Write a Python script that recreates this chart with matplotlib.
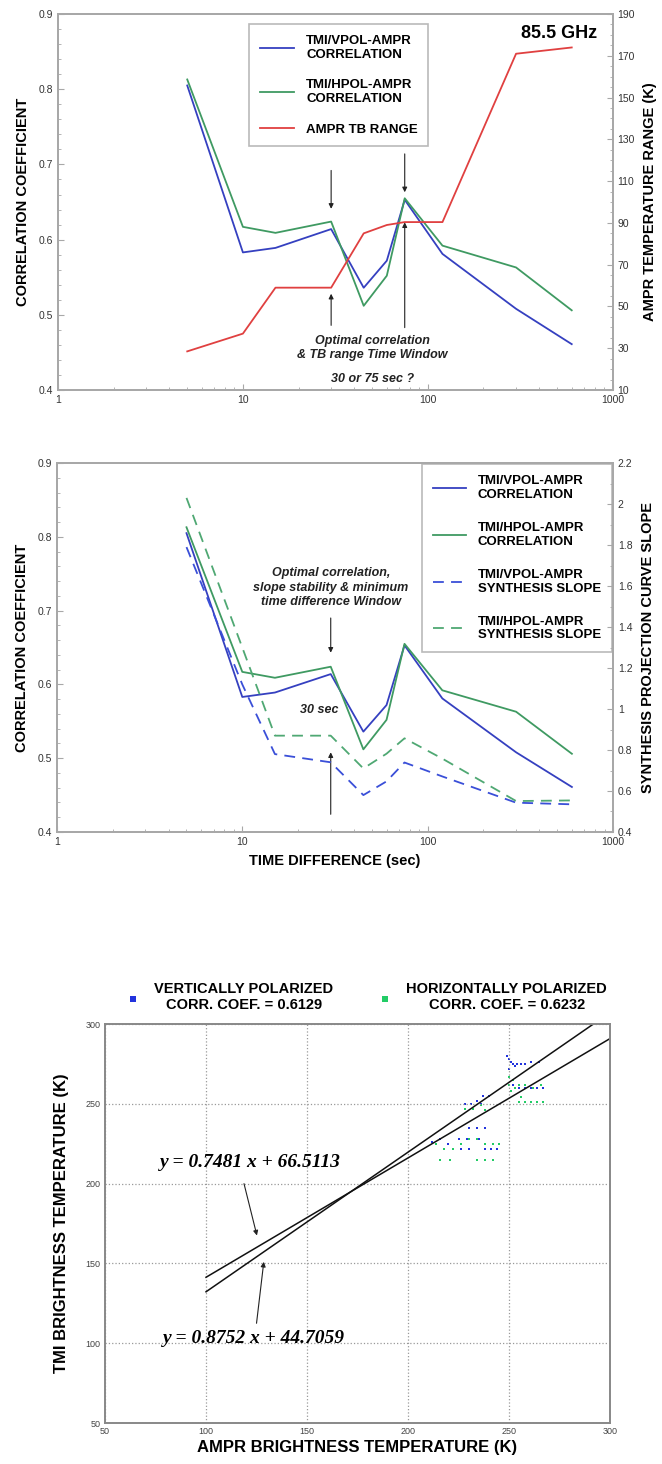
import numpy as np
import matplotlib
matplotlib.use("Agg")
import matplotlib.pyplot as plt
from matplotlib.ticker import MultipleLocator, FixedLocator, FuncFormatter, LogLocator, NullFormatter

plt.rcParams['font.family'] = ['Liberation Sans', 'DejaVu Sans']

# time difference (sec)
time_diff = [5, 10, 15, 30, 45, 60, 75, 120, 300, 600]
# TMI vs AMPR correlation coefficients
corr_vpol = [0.805, 0.583, 0.589, 0.614, 0.536, 0.572, 0.653, 0.581, 0.508, 0.461]
corr_hpol = [0.813, 0.617, 0.609, 0.624, 0.512, 0.552, 0.655, 0.592, 0.563, 0.506]
# AMPR TB range (K)
tb_range = [28.5, 37, 59, 59, 85, 89, 90.4, 90.4, 171, 174]
# synthesis projection curve slopes
slope_vpol = [1.79, 1.12, 0.78, 0.74, 0.58, 0.647, 0.739, 0.671, 0.543, 0.535]
slope_hpol = [2.03, 1.30, 0.87, 0.87, 0.71, 0.782, 0.857, 0.758, 0.551, 0.554]

# scatter: AMPR TB vs TMI TB at 85.5 GHz
v_ampr = [249, 250, 251, 252, 254, 256, 258, 261, 265, 250, 253,
          255, 258, 261, 264, 267, 252,
          228, 231, 234, 237, 240, 236,
          230, 234, 238, 235, 229, 225, 220, 226, 230, 238, 241, 244, 216, 212]
v_tmi = [280, 278, 276, 275, 275, 275, 275, 276, 276, 272, 274,
         260, 260, 260, 260, 260, 262,
         250, 250, 252, 255, 255, 250,
         235, 235, 235, 228, 228, 228, 225, 222, 222, 222, 222, 222, 228, 226]
h_ampr = [250, 252, 255, 258, 250, 253, 262, 266, 251,
          255, 258, 261, 264, 267, 256,
          228, 232, 236, 238,
          214, 218, 222, 226, 230, 234, 238, 242, 245, 216, 221, 234, 238, 242]
h_tmi = [267, 265, 262, 262, 262, 260, 260, 262, 258,
         251, 251, 251, 251, 251, 254,
         247, 247, 249, 246,
         225, 222, 222, 225, 228, 228, 225, 225, 225, 215, 215, 215, 215, 215]
fit_v = (0.7481, 66.5113)
fit_h = (0.8752, 44.7059)

BLUE = '#3540c0'
GREEN = '#3f9a62'
RED = '#e04040'
SPINE = '#a8a8a8'
TICKFS = 7.5
LABFS = 10.5
LEGFS = 9.5


def style_axes(ax):
    for s in ax.spines.values():
        s.set_color(SPINE)
        s.set_linewidth(1.4)
    ax.tick_params(which='both', direction='in', colors=SPINE, labelcolor='#333333',
                   labelsize=TICKFS)
    ax.tick_params(which='major', length=4)
    ax.tick_params(which='minor', length=2)


def log_x(ax):
    ax.set_xscale('log')
    ax.set_xlim(1, 1000)
    ax.xaxis.set_major_locator(FixedLocator([1, 10, 100, 1000]))
    ax.xaxis.set_major_formatter(FuncFormatter(lambda v, p: '%d' % v))
    ax.xaxis.set_minor_locator(LogLocator(base=10, subs=np.arange(2, 10)))
    ax.xaxis.set_minor_formatter(NullFormatter())


def arrow(ax, head, tail):
    ax.annotate('', xy=head, xytext=tail,
                arrowprops=dict(arrowstyle='-|>', color='#222222', lw=0.8,
                                mutation_scale=7, shrinkA=0, shrinkB=0))


fig = plt.figure(figsize=(6.62, 14.64), dpi=100)
note_font = dict(fontsize=9, style='italic', fontweight='bold', color='#222222')

# ---- top: correlation & TB range ----
ax1 = fig.add_axes([0.0876, 0.7336, 0.838, 0.2568])
ax1b = ax1.twinx()
l1, = ax1.plot(time_diff, corr_vpol, color=BLUE, lw=1.3, label='TMI/VPOL-AMPR\nCORRELATION')
l2, = ax1.plot(time_diff, corr_hpol, color=GREEN, lw=1.3, label='TMI/HPOL-AMPR\nCORRELATION')
l3, = ax1b.plot(time_diff, tb_range, color=RED, lw=1.3, label='AMPR TB RANGE')
log_x(ax1)
ax1.set_ylim(0.4, 0.9)
ax1.yaxis.set_major_locator(MultipleLocator(0.1))
ax1.yaxis.set_minor_locator(MultipleLocator(0.02))
ax1b.set_ylim(10, 190)
ax1b.yaxis.set_major_locator(FixedLocator(np.arange(10, 191, 20)))
ax1b.yaxis.set_minor_locator(MultipleLocator(5))
style_axes(ax1)
style_axes(ax1b)
ax1.set_ylabel('CORRELATION COEFFICIENT', fontsize=LABFS, fontweight='bold', labelpad=6)
ax1b.set_ylabel('AMPR TEMPERATURE RANGE (K)', fontsize=LABFS, fontweight='bold', labelpad=6)
ax1.text(510, 0.874, '85.5 GHz', fontsize=13, fontweight='bold', ha='center', va='center')
leg1 = ax1.legend(handles=[l1, l2, l3], loc='upper left', bbox_to_anchor=(0.333, 0.99),
                  prop={'weight': 'bold', 'size': LEGFS}, frameon=True,
                  fancybox=False, edgecolor=SPINE, handlelength=2.6, labelspacing=1.4,
                  borderpad=0.8, handletextpad=0.9)
leg1.get_frame().set_linewidth(1.2)
arrow(ax1, (30, 0.641), (30, 0.692))
arrow(ax1, (30, 0.528), (30, 0.486))
arrow(ax1, (75, 0.663), (75, 0.714))
arrow(ax1, (75, 0.623), (75, 0.483))
ax1.text(50, 0.456, 'Optimal correlation\n& TB range Time Window', ha='center', va='center',
         linespacing=1.3, **note_font)
ax1.text(50, 0.415, '30 or 75 sec ?', ha='center', va='center', **note_font)

# ---- middle: correlation & synthesis slope ----
ax2 = fig.add_axes([0.086, 0.4317, 0.84, 0.252])
ax2b = ax2.twinx()
m1, = ax2.plot(time_diff, corr_vpol, color=BLUE, lw=1.3, label='TMI/VPOL-AMPR\nCORRELATION')
m2, = ax2.plot(time_diff, corr_hpol, color=GREEN, lw=1.3, label='TMI/HPOL-AMPR\nCORRELATION')
m3, = ax2b.plot(time_diff, slope_vpol, color='#3a4fd8', lw=1.3, ls=(0, (6, 4)),
                label='TMI/VPOL-AMPR\nSYNTHESIS SLOPE')
m4, = ax2b.plot(time_diff, slope_hpol, color='#4fa873', lw=1.3, ls=(0, (6, 4)),
                label='TMI/HPOL-AMPR\nSYNTHESIS SLOPE')
log_x(ax2)
ax2.set_ylim(0.4, 0.9)
ax2.yaxis.set_major_locator(MultipleLocator(0.1))
ax2.yaxis.set_minor_locator(MultipleLocator(0.02))
ax2b.set_ylim(0.4, 2.2)
ax2b.yaxis.set_major_locator(MultipleLocator(0.2))
ax2b.yaxis.set_minor_locator(MultipleLocator(0.1))
ax2b.yaxis.set_major_formatter(FuncFormatter(lambda v, p: '%g' % round(v, 1)))
style_axes(ax2)
style_axes(ax2b)
ax2.set_ylabel('CORRELATION COEFFICIENT', fontsize=LABFS, fontweight='bold', labelpad=6)
ax2b.set_ylabel('SYNTHESIS PROJECTION CURVE SLOPE', fontsize=LABFS, fontweight='bold', labelpad=6)
ax2.set_xlabel('TIME DIFFERENCE (sec)', fontsize=LABFS, fontweight='bold', labelpad=5)
leg2 = ax2.legend(handles=[m1, m2, m3, m4], loc='upper right', bbox_to_anchor=(1.0, 1.0),
                  prop={'weight': 'bold', 'size': LEGFS}, frameon=True, fancybox=False,
                  edgecolor=SPINE, handlelength=2.5, labelspacing=1.6, borderpad=0.8,
                  handletextpad=0.9, borderaxespad=0.1)
leg2.get_frame().set_linewidth(1.2)
ax2.text(30, 0.731, 'Optimal correlation,\nslope stability & minimum\ntime difference Window',
         ha='center', va='center', linespacing=1.3, **note_font)
arrow(ax2, (30, 0.643), (30, 0.69))
arrow(ax2, (30, 0.508), (30, 0.424))
ax2.text(26, 0.565, '30 sec', ha='center', va='center', **note_font)

# ---- bottom: scatter with regression lines ----
ax3 = fig.add_axes([0.1586, 0.028, 0.763, 0.2725])
ax3.scatter(v_ampr, v_tmi, s=3, marker='s', color='#2233dd', linewidths=0,
            label='VERTICALLY POLARIZED\nCORR. COEF. = 0.6129')
ax3.scatter(h_ampr, h_tmi, s=3, marker='s', color='#22cc66', linewidths=0,
            label='HORIZONTALLY POLARIZED\nCORR. COEF. = 0.6232')
xs = np.array([100, 300])
ax3.plot(xs, fit_v[0] * xs + fit_v[1], color='#111111', lw=1.1)
ax3.plot(xs, fit_h[0] * xs + fit_h[1], color='#111111', lw=1.1)
ax3.set_xlim(50, 300)
ax3.set_ylim(50, 300)
ax3.xaxis.set_major_locator(MultipleLocator(50))
ax3.yaxis.set_major_locator(MultipleLocator(50))
ax3.grid(True, ls=':', color='#999999', lw=0.9)
for s in ax3.spines.values():
    s.set_color('#888888')
    s.set_linewidth(1.4)
ax3.tick_params(length=0, labelsize=6.5, labelcolor='#444444', pad=3)
ax3.set_xlabel('AMPR BRIGHTNESS TEMPERATURE (K)', fontsize=12, fontweight='bold', labelpad=3)
ax3.set_ylabel('TMI BRIGHTNESS TEMPERATURE (K)', fontsize=12, fontweight='bold', labelpad=12)
leg3 = ax3.legend(loc='lower center', bbox_to_anchor=(0.51, 1.0), ncol=2, frameon=False,
                  prop={'weight': 'bold', 'size': 10.5}, markerscale=2.2,
                  handletextpad=0.5, columnspacing=2.5, borderaxespad=0.4)
for t in leg3.get_texts():
    t.set_multialignment('center')
eq_font = dict(family='Liberation Serif', fontsize=14, fontweight='bold', style='italic')
ax3.text(122, 213, 'y = 0.7481 x + 66.5113', ha='center', va='center', **eq_font)
ax3.text(123.5, 103, 'y = 0.8752 x + 44.7059', ha='center', va='center', **eq_font)
arrow(ax3, (125.2, 167.5), (118.8, 200))
arrow(ax3, (128.6, 151), (125, 112.5))

fig.savefig('out.png', dpi=100)
